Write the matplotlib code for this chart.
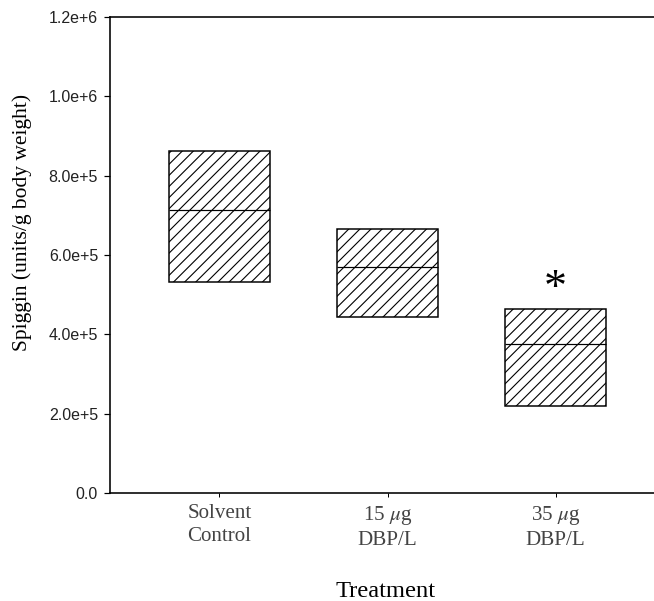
import matplotlib
matplotlib.use('Agg')
import matplotlib.pyplot as plt

# data (spiggin, units/g body weight)
treatments = ['Solvent\nControl', '15 $\\mu$g\nDBP/L', '35 $\\mu$g\nDBP/L']
q_low = [533000, 444000, 220000]
median = [713000, 569000, 376000]
q_high = [863000, 665000, 464000]
signif = [False, False, True]

y_ticks = [0, 200000, 400000, 600000, 800000, 1000000, 1200000]
y_ticklabels = ['0.0', '2.0e+5', '4.0e+5', '6.0e+5', '8.0e+5', '1.0e+6', '1.2e+6']

DPI = 100
PX = 72 / DPI  # one pixel in points

plt.rcParams['mathtext.fontset'] = 'stix'
plt.rcParams['hatch.linewidth'] = 0.8

fig = plt.figure(figsize=(6.54, 6.01), dpi=DPI)
fig.patch.set_facecolor('white')
ax = fig.add_axes([110 / 654, 108 / 601, 1 - 110 / 654, 476 / 601])

x = [1, 2, 3]
w = 0.6
heights = [h - l for h, l in zip(q_high, q_low)]
ax.bar(x, heights, bottom=q_low, width=w, facecolor='white',
       edgecolor='black', hatch='///', linewidth=1.5 * PX, zorder=2)
ax.hlines(median, [i - w / 2 for i in x], [i + w / 2 for i in x],
          color='black', linewidth=1.2 * PX, zorder=3)

# significance marker above the box
for i, s in enumerate(signif):
    if s:
        ax.annotate('*', xy=(x[i], q_high[i]), xytext=(0, 19 * PX),
                    textcoords='offset points', ha='center', va='center',
                    fontsize=46 * PX, family='Liberation Serif')

ax.set_xlim(0.349, 3.585)
ax.set_ylim(0, 1200000)

ax.set_xticks(x)
ax.set_xticklabels(treatments, family='Liberation Serif', fontsize=21 * PX,
                   color='#444444', linespacing=1.3)
ax.set_yticks(y_ticks)
ax.set_yticklabels(y_ticklabels, family='Liberation Sans', fontsize=16 * PX,
                   color='#222222')
ax.tick_params(axis='y', direction='out', length=6 * PX, width=1.2 * PX, pad=6 * PX)
ax.tick_params(axis='x', direction='out', length=4 * PX, width=1.0 * PX, pad=7 * PX)

for sp in ['left', 'bottom', 'top']:
    ax.spines[sp].set_linewidth(1.6 * PX)
ax.spines['right'].set_visible(False)

fig.text(22 / 654, 1 - 222 / 601, 'Spiggin (units/g body weight)',
         family='Liberation Serif', fontsize=21.5 * PX, rotation=90,
         ha='center', va='center')
fig.text(386 / 654, 4 / 601, 'Treatment', family='Liberation Serif',
         fontsize=24.5 * PX, ha='center', va='baseline')

fig.savefig('out.png', dpi=DPI, facecolor='white')
